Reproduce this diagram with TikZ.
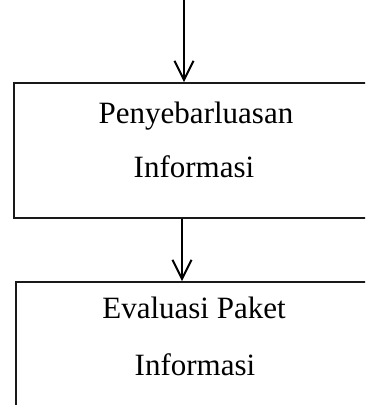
\documentclass[tikz,border=0pt]{standalone}
\usepackage{fontspec}
\setmainfont{Liberation Serif}
\usetikzlibrary{arrows.meta}
\begin{document}
\begin{tikzpicture}[x=1pt,y=-1pt,
  boxstyle/.style={draw=black!90,line width=1.6pt,rectangle,inner sep=0pt,anchor=north west},
  lbl/.style={inner sep=0pt,anchor=base,font=\fontsize{31}{36}\selectfont},
  flow/.style={line width=2pt,-{Straight Barb[length=19pt,width=19pt,line width=2pt]}}]
\useasboundingbox (0,0) rectangle (365,405);
\clip (0,0) rectangle (365,405);
\node[boxstyle,minimum width=370pt,minimum height=135pt] (b1) at (13,82) {};
\node[boxstyle,minimum width=370pt,minimum height=140pt] (b2) at (15,281) {};
\node[lbl] (t1) at (196,123) {Penyebarluasan};
\node[lbl] (t2) at (194,177) {Informasi};
\node[lbl] (t3) at (194,318) {Evaluasi Paket};
\node[lbl] (t4) at (195,375) {Informasi};
\coordinate (top) at (184,-2);
\draw[flow] (top) -- (top |- b1.north);
\coordinate (mid) at (182,0);
\draw[flow] (mid |- b1.south) -- (mid |- b2.north);
\end{tikzpicture}
\end{document}
